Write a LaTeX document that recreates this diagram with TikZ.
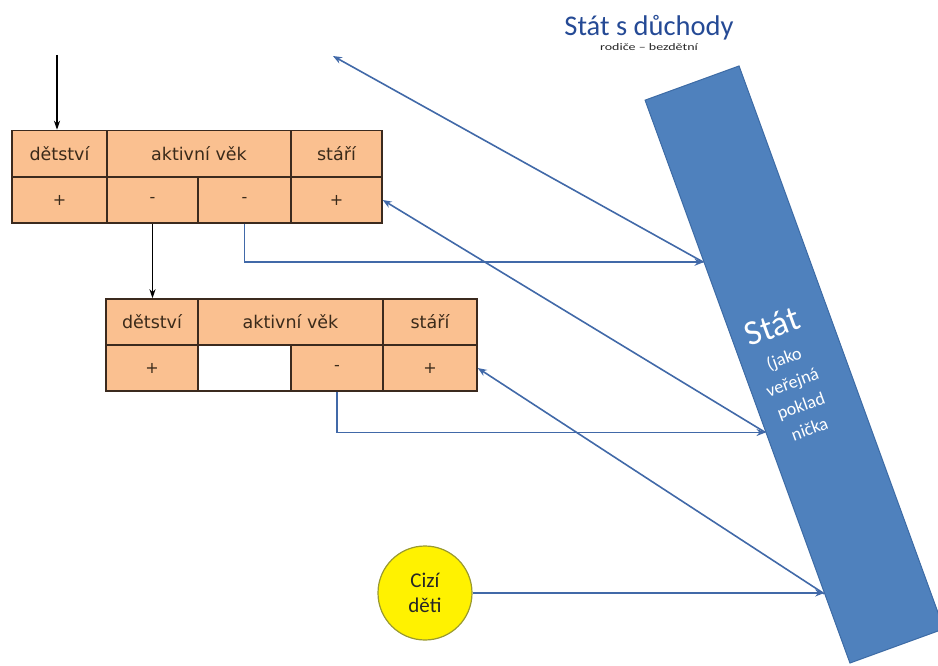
\documentclass[tikz,border=0pt]{standalone}
\usepackage{fontspec}
\usepackage{graphicx}
\setmainfont{Carlito}
\newfontfamily\tabfont{DejaVu Sans}
\usetikzlibrary{arrows.meta,calc}
\definecolor{peach}{HTML}{FAC090}
\definecolor{cellline}{HTML}{3B2A1E}
\definecolor{celltext}{HTML}{3A2A1A}
\definecolor{barblue}{HTML}{4F81BD}
\definecolor{barline}{HTML}{3D6BA5}
\definecolor{flowblue}{HTML}{4169A8}
\definecolor{titleblue}{HTML}{254A95}
\definecolor{circline}{HTML}{9A9A30}
\begin{document}
\begin{tikzpicture}[x=1pt,y=-1pt,
  every node/.style={inner sep=0pt},
  cell/.style={draw=cellline, line width=1.5pt, fill=peach, minimum height=46pt,
    font=\tabfont\fontsize{17.5}{19}\selectfont, text=celltext},
  signcell/.style={cell, font=\tabfont\fontsize{16}{18}\selectfont},
  flow/.style={draw=flowblue, line width=1.6pt},
  tip/.style={-{Stealth[length=9pt,width=7pt]}},
  downarrow/.style={draw=black, line width=1.3pt, -{Stealth[length=9pt,width=6pt]}},
]
\useasboundingbox (0,0) rectangle (938,666);

% state bar
\node[draw=barline, fill=barblue, line width=1pt, minimum width=100pt,
      minimum height=599pt, rotate=20] (bar) at (794.5,364.5) {};
\node[rotate=20, text=white, align=center, font=\fontsize{18}{25}\selectfont]
  (bartext) at ($(bar.center)!8pt!(bar.south) + (-7.5,2.7)$)
  {{\fontsize{35}{36}\selectfont Stát}\\[4pt](jako\\veřejná\\poklad\\nička};

\coordinate (b1) at ($(bar.north west)!0.288!(bar.south west)$);
\coordinate (b2) at ($(bar.north west)!0.590!(bar.south west)$);
\coordinate (b3) at ($(bar.north west)!0.876!(bar.south west)$);

% titles
\node[font=\fontsize{28.5}{30}\selectfont, text=titleblue] (title) at (649,28) {Stát s důchody};
\node[font=\fontsize{10}{12}\selectfont, text=black!85] (sub) at (649,47)
  {\scalebox{1.4}[1]{rodiče – bezdětní}};

% table 1
\node[cell, minimum width=95pt]  (t1d) at (59.5,153.5) {dětství};
\node[cell, minimum width=184pt] (t1a) at (199,153.5) {aktivní věk};
\node[cell, minimum width=91pt]  (t1s) at (336.5,153.5) {stáří};
\node[signcell, minimum width=95pt] (t1p1) at (59.5,200) {+};
\node[signcell, minimum width=91pt] (t1m1) at (152.5,200) {-};
\node[signcell, minimum width=93pt] (t1m2) at (244.5,200) {-};
\node[signcell, minimum width=91pt] (t1p2) at (336.5,200) {+};

% table 2
\node[cell, minimum width=92pt]  (t2d) at (152,322) {dětství};
\node[cell, minimum width=185pt] (t2a) at (290.5,322) {aktivní věk};
\node[cell, minimum width=94pt]  (t2s) at (430,322) {stáří};
\node[signcell, minimum width=92pt] (t2p1) at (152,368) {+};
\node[signcell, minimum width=93pt, fill=white] (t2e) at (244.5,368) {};
\node[signcell, minimum width=92pt] (t2m) at (337,368) {-};
\node[signcell, minimum width=94pt] (t2p2) at (430,368) {+};

% foreign children
\node[circle, draw=circline, fill=yellow, line width=1.2pt, minimum size=94pt,
      align=center, font=\fontsize{21}{25}\selectfont, text=black!85] (cizi) at (425,593)
  {Cizí\\děti};

% black arrows
\coordinate (in1) at (57,55);
\draw[downarrow] (in1) -- (in1 |- t1d.north);
\draw[downarrow] (t1m1.south) -- (t1m1.south |- t2d.north);

% flows to the state
\draw[flow,tip] (t1m2.south) |- (b1);
\draw[flow,tip] (t2m.south) |- (b2);
\draw[flow,tip] (cizi.east) -- (cizi.east -| b3);

% flows from the state
\coordinate (d1) at (333,56);
\draw[flow,tip] (b1) -- (d1);
\draw[flow,tip] (b2) -- (t1p2.east);
\draw[flow,tip] (b3) -- (t2p2.east);
\end{tikzpicture}
\end{document}
